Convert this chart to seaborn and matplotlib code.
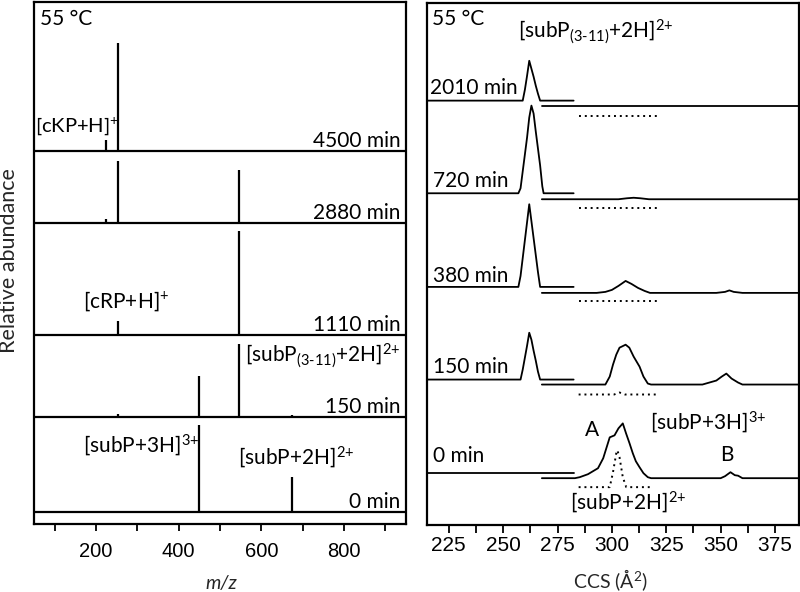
import matplotlib
matplotlib.use("Agg")
import matplotlib.pyplot as plt
import seaborn as sns

sns.set_theme(style="ticks")
plt.rcParams['font.family'] = ['Lato', 'DejaVu Sans']
plt.rcParams['mathtext.fontset'] = 'custom'
plt.rcParams['mathtext.rm'] = 'Lato'
plt.rcParams['mathtext.it'] = 'Lato:italic'
plt.rcParams['mathtext.bf'] = 'Lato:bold'

# ---------------- left panel: mass spectra (stick peaks) ----------------
ms_times = ["4500 min", "2880 min", "1110 min", "150 min", "0 min"]
mz_4500 = [225, 254]
ab_4500 = [11, 109]
mz_2880 = [225, 254, 547]
ab_2880 = [4, 62, 53]
mz_1110 = [254, 547]
ab_1110 = [14, 104]
mz_150 = [254, 449, 547, 675]
ab_150 = [3, 42, 74, 2]
mz_0 = [450, 675]
ab_0 = [87, 35]
ms_peaks = [(mz_4500, ab_4500), (mz_2880, ab_2880), (mz_1110, ab_1110),
            (mz_150, ab_150), (mz_0, ab_0)]
ms_offset = [374, 302.5, 190, 107, 12]

# ---------------- right panel: arrival time distributions ----------------
ccs_times = ["2010 min", "720 min", "380 min", "150 min", "0 min"]

# first segment (shared CCS grid)
ccs_a = [215, 257, 258, 259, 260, 261, 262, 263, 264, 265, 266, 267, 268, 268.6, 282.4]
int_a_2010 = [0, 0, 0, 0, 11, 25, 40, 32, 24, 15, 7, 0, 0, 0, 0]
int_a_720 = [0, 0, 5, 22, 39, 56, 76, 88, 80, 62, 45, 28, 7, 0, 0]
int_a_380 = [0, 0, 11, 29, 47, 65, 83, 66, 49, 32, 15, 0, 0, 0, 0]
int_a_150 = [0, 0, 0, 10, 22, 34, 47, 40, 29, 19, 8, 0, 0, 0, 0]
int_a_0 = [0] * 15

# second segment
ccs_b_2010 = [267.8, 386]
int_b_2010 = [0, 0]
ccs_b_720 = [267.8, 303, 307, 310, 313, 317, 386]
int_b_720 = [0, 0, 1, 1.5, 1, 0, 0]
ccs_b_380 = [267.8, 293, 297, 300, 303, 306.3, 309, 312, 315, 317.5, 348, 352, 354, 356, 360, 386]
int_b_380 = [0, 0, 1, 3, 7, 12, 9, 5, 2, 0, 0, 1, 2.5, 1, 0, 0]
ccs_b_150 = [267.8, 297, 299, 300.5, 302, 303.5, 306.3, 308, 310, 312.7, 314.5, 316.5, 318,
             341.6, 348, 350.5, 352.6, 355, 358, 360, 386]
int_b_150 = [0, 0, 8, 20, 30, 37, 40, 37, 28, 18, 8, 1, 0,
             0, 4, 8, 11, 6, 2, 0, 0]
ccs_b_0 = [267.8, 283, 285.2, 289, 293.6, 296, 299, 301.2, 303, 305, 306.5, 308.1, 309.6,
           311, 312.7, 314.5, 316.5, 318, 350, 352, 354.5, 356.5, 358, 360, 386]
int_b_0 = [0, 0, 1, 4, 10, 20, 41, 43, 50, 55, 45, 35, 25,
           17, 11, 5, 1, 0, 0, 2, 6, 3, 2.5, 0, 0]

# dotted traces
ccs_d_flat = [284.7, 321]
int_d_flat = [0, 0]
ccs_d_150 = [284.7, 301, 303.5, 306, 321]
int_d_150 = [0, 0, 2, 0, 0]
ccs_d_0 = [284.7, 299, 300.5, 302, 302.5, 303.5, 305, 306.6, 318.5]
int_d_0 = [0, 0, 15, 34, 37, 30, 10, 0, 0]

seg_a = [int_a_2010, int_a_720, int_a_380, int_a_150, int_a_0]
seg_b = [(ccs_b_2010, int_b_2010), (ccs_b_720, int_b_720), (ccs_b_380, int_b_380),
         (ccs_b_150, int_b_150), (ccs_b_0, int_b_0)]
seg_d = [(ccs_d_flat, int_d_flat), (ccs_d_flat, int_d_flat), (ccs_d_flat, int_d_flat),
         (ccs_d_150, int_d_150), (ccs_d_0, int_d_0)]
off_a = [426, 333, 239, 146, 52]
off_b = [421, 327, 233, 141, 47]
off_d = [411, 318, 225, 131, 38]

fig = plt.figure(figsize=(8, 5.92), dpi=100)
axL = fig.add_axes([34 / 800, 68 / 592, 372 / 800, 522 / 592])
axR = fig.add_axes([427 / 800, 67 / 592, 372 / 800, 522 / 592])

lab = dict(fontsize=15, color='black')
sub311 = r"[subP$_{\mathrm{(3\text{-}11)}}$+2H]$^{2{+}}$"

# left panel
for (mz, ab), base in zip(ms_peaks, ms_offset):
    axL.axhline(base, color='black', lw=1.6)
    axL.vlines(mz, base, [base + a for a in ab], color='black', lw=1.6)
for t, base in zip(ms_times, ms_offset):
    axL.text(937, base + 10, t, ha='right', va='center', **lab)

axL.text(64, 507, "55 °C", ha='left', va='center', **lab)
axL.text(52, 399, "[cKP+H]$^{+}$", ha='left', va='center', fontsize=14.5, color='black')
axL.text(169, 224, "[cRP+H]$^{+}$", ha='left', va='center', **lab)
axL.text(561, 169, sub311, ha='left', va='center', **lab)
axL.text(169, 79, "[subP+3H]$^{3{+}}$", ha='left', va='center', **lab)
axL.text(544, 67, "[subP+2H]$^{2{+}}$", ha='left', va='center', **lab)

axL.set_xlim(50, 950)
axL.set_ylim(0, 524)
axL.set_xticks([200, 400, 600, 800], ["200", "400", "600", "800"],
               fontfamily='Liberation Sans', fontsize=14.5)
axL.set_xticks([100, 300, 500, 700, 900], minor=True)
axL.set_yticks([])
axL.tick_params(axis='x', which='both', direction='out', length=5, width=1.3,
                pad=8, colors='black')

# right panel
for ya, (xb, yb), (xd, yd), oa, ob, od in zip(seg_a, seg_b, seg_d, off_a, off_b, off_d):
    sns.lineplot(x=ccs_a, y=[v + oa for v in ya], ax=axR, color='black', lw=1.3)
    sns.lineplot(x=xb, y=[v + ob for v in yb], ax=axR, color='black', lw=1.3)
    sns.lineplot(x=xd, y=[v + od for v in yd], ax=axR, color='black', lw=1.4,
                 linestyle=(0, (1, 2)))

label_y = [439, 345, 250, 159, 69]
for t, yy in zip(ccs_times, label_y):
    axR.text(217.6 if t != "2010 min" else 216.4, yy, t, ha='left', va='center', **lab)

axR.text(217.3, 508, "55 °C", ha='left', va='center', **lab)
axR.text(256.7, 495, sub311, ha='left', va='center', **lab)
axR.text(290.7, 95, "A", ha='center', va='center', **lab)
axR.text(317.3, 103, "[subP+3H]$^{3{+}}$", ha='left', va='center', **lab)
axR.text(352.6, 70, "B", ha='center', va='center', **lab)
axR.text(280.6, 23, "[subP+2H]$^{2{+}}$", ha='left', va='center', **lab)

axR.set_xlim(215, 386)
axR.set_ylim(0, 524)
axR.set_xticks([225, 250, 275, 300, 325, 350, 375],
               ["225", "250", "275", "300", "325", "350", "375"],
               fontfamily='Liberation Sans', fontsize=15)
axR.set_xticks([237.5, 262.5, 287.5, 312.5, 337.5, 362.5], minor=True)
axR.set_yticks([])
axR.set_xlabel("")
axR.set_ylabel("")
axR.tick_params(axis='x', which='both', direction='out', length=6, width=1.3,
                pad=2, colors='black')

for ax in (axL, axR):
    for s in ax.spines.values():
        s.set_linewidth(1.6)
        s.set_color('black')

fig.text(221 / 800, 1 - 584 / 592, "m/z", style='italic', fontsize=14,
         ha='center', va='center')
fig.text(610 / 800, 1 - 580 / 592, "CCS (Å$^{2}$)", fontsize=14,
         ha='center', va='center')
fig.text(9 / 800, 1 - 261 / 592, "Relative abundance", rotation=90, fontsize=15.5,
         ha='center', va='center')

fig.savefig("out.png", dpi=100)
